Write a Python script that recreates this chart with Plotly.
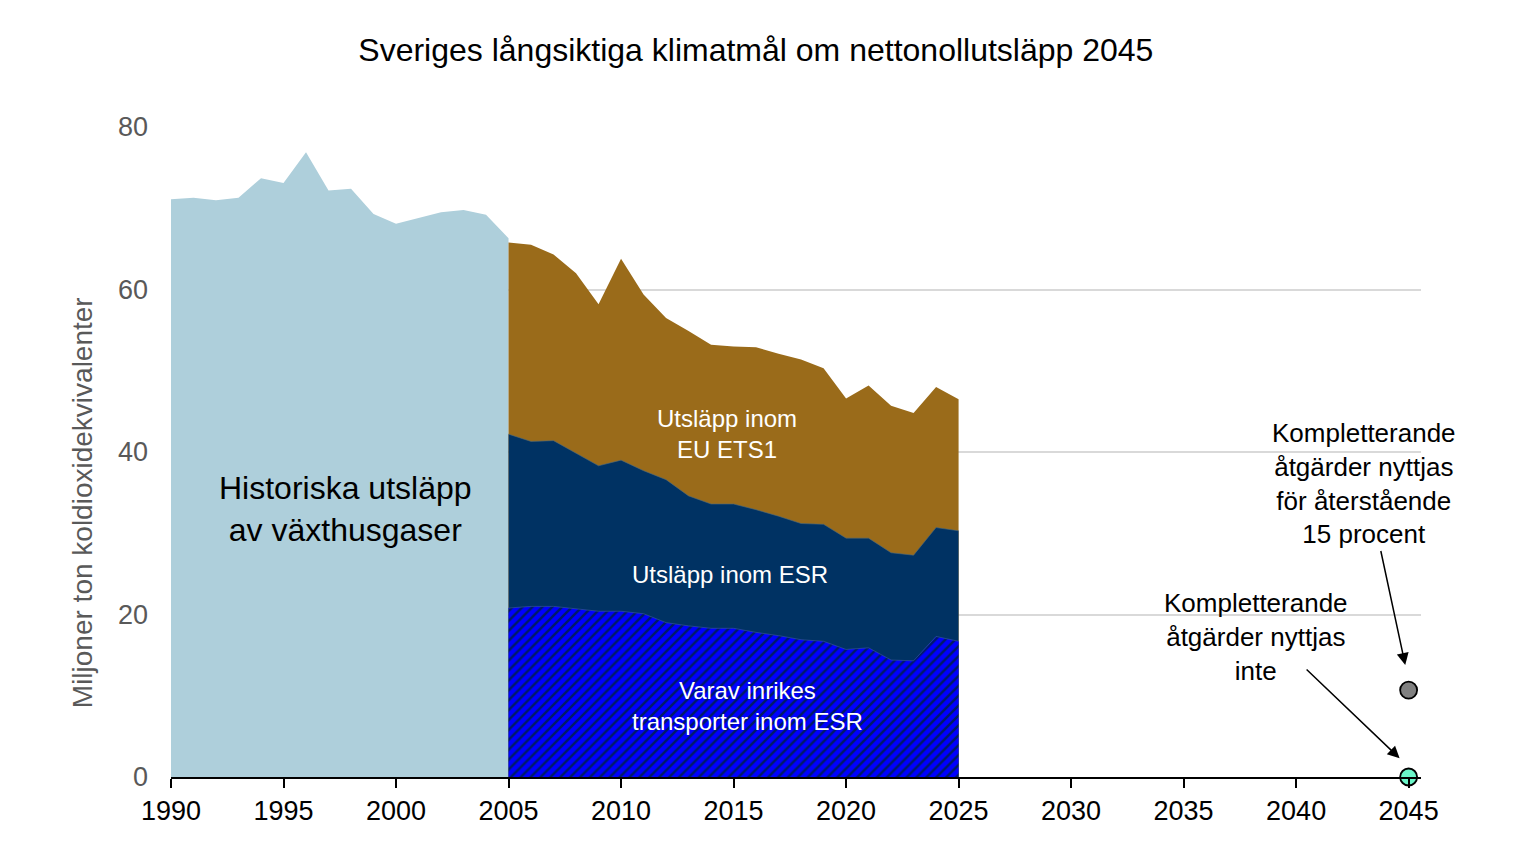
import plotly.graph_objects as go

# Data (million tonnes CO2e)
hist_years = list(range(1990, 2006))
hist_vals = [71.1, 71.3, 71.0, 71.3, 73.7, 73.1, 76.9, 72.2, 72.4, 69.3, 68.1, 68.8, 69.5, 69.8, 69.2, 66.3]

years = list(range(2005, 2026))
total = [65.8, 65.5, 64.3, 62.0, 58.2, 63.8, 59.4, 56.5, 54.9, 53.2, 53.0, 52.9, 52.1, 51.4, 50.3, 46.6, 48.2, 45.7, 44.8, 48.0, 46.5]
esr = [42.2, 41.3, 41.4, 39.8, 38.3, 39.0, 37.7, 36.6, 34.6, 33.6, 33.6, 32.9, 32.1, 31.2, 31.1, 29.4, 29.4, 27.6, 27.3, 30.7, 30.3]
transport = [20.8, 21.0, 21.0, 20.7, 20.4, 20.4, 20.1, 19.0, 18.6, 18.3, 18.3, 17.8, 17.4, 16.9, 16.7, 15.7, 15.9, 14.4, 14.3, 17.3, 16.7]

target_year = [2045]
target_with = [10.7]
target_without = [0]

x_ticks = list(range(1990, 2050, 5))
y_ticks = [0, 20, 40, 60, 80]

FONT = "Liberation Sans, Arial, sans-serif"

fig = go.Figure()
fig.add_trace(go.Scatter(x=hist_years, y=hist_vals, fill="tozeroy", mode="lines",
                         line=dict(width=0, color="#AECFDB"), fillcolor="#AECFDB",
                         hoverinfo="skip", showlegend=False))
fig.add_trace(go.Scatter(x=years, y=total, fill="tozeroy", mode="lines",
                         line=dict(width=0, color="#9A6B1A"), fillcolor="#9A6B1A",
                         showlegend=False))
fig.add_trace(go.Scatter(x=years, y=esr, fill="tozeroy", mode="lines",
                         line=dict(width=0.6, color="#4A6A80"), fillcolor="#003263",
                         showlegend=False))
fig.add_trace(go.Scatter(x=years, y=transport, fill="tozeroy", mode="lines",
                         line=dict(width=0.6, color="#3A5A9A"),
                         fillpattern=dict(shape="/", bgcolor="#0000FF", fgcolor="#001A66",
                                          size=7, solidity=0.35, fillmode="replace"),
                         showlegend=False))
fig.add_trace(go.Scatter(x=target_year, y=target_with, mode="markers",
                         marker=dict(size=17, color="#808080", line=dict(color="black", width=1.8)),
                         cliponaxis=False, showlegend=False))
fig.add_trace(go.Scatter(x=target_year, y=target_without, mode="markers",
                         marker=dict(size=17, color="#6BF5C8", line=dict(color="black", width=1.8)),
                         cliponaxis=False, showlegend=False))

fig.update_layout(
    width=1527, height=858,
    margin=dict(l=171, r=106, t=127, b=81),
    paper_bgcolor="white", plot_bgcolor="white",
    font=dict(family=FONT, color="black"),
    title=dict(text="Sveriges långsiktiga klimatmål om nettonollutsläpp 2045",
               x=0.495, xanchor="center", y=0.942, yanchor="middle",
               font=dict(size=32, color="black", family=FONT)),
    xaxis=dict(range=[1990, 2045.55], tickvals=x_ticks, ticktext=[str(v) for v in x_ticks],
               showgrid=False, zeroline=False, showline=True, linecolor="black", linewidth=2,
               ticks="outside", ticklen=9, tickwidth=2, tickcolor="black",
               tickfont=dict(size=27, color="black", family=FONT)),
    yaxis=dict(range=[0, 80], tickvals=y_ticks, showgrid=True, gridcolor="#D9D9D9", gridwidth=1.5,
               zeroline=False, showline=False, ticks="", ticklabelstandoff=22,
               tickfont=dict(size=27, color="#595959", family=FONT)),
)

# y-axis title (placed as in the reference, below the plot-area centre)
fig.add_annotation(x=-0.0712, xref="paper", y=33.7, yref="y",
                   text="Miljoner ton koldioxidekvivalenter", textangle=-90, showarrow=False,
                   font=dict(family=FONT, size=28, color="#595959"),
                   xanchor="center", yanchor="middle")

ann = [
    dict(x=1997.75, y=33.0, text="Historiska utsläpp<br>av växthusgaser", font=dict(size=32, color="black")),
    dict(x=2014.7, y=42.2, text="Utsläpp inom<br>EU ETS1", font=dict(size=24, color="white")),
    dict(x=2014.85, y=24.9, text="Utsläpp inom ESR", font=dict(size=24, color="white")),
    dict(x=2015.6, y=8.8, text="Varav inrikes<br>transporter inom ESR", font=dict(size=24, color="white")),
    dict(x=2043.0, y=36.1, text="Kompletterande<br>åtgärder nyttjas<br>för återstående<br>15 procent", font=dict(size=26, color="black")),
    dict(x=2038.2, y=17.2, text="Kompletterande<br>åtgärder nyttjas<br>inte", font=dict(size=26, color="black")),
]
for a in ann:
    fig.add_annotation(x=a["x"], y=a["y"], text=a["text"], showarrow=False,
                       font=dict(family=FONT, **a["font"]), align="center",
                       xanchor="center", yanchor="middle")

# arrows
fig.add_annotation(x=2044.85, y=13.8, ax=2043.75, ay=28.0, xref="x", yref="y", axref="x", ayref="y",
                   showarrow=True, arrowhead=2, arrowsize=1.6, arrowwidth=1.5, arrowcolor="black", text="")
fig.add_annotation(x=2044.6, y=2.3, ax=2040.4, ay=13.4, xref="x", yref="y", axref="x", ayref="y",
                   showarrow=True, arrowhead=2, arrowsize=1.6, arrowwidth=1.5, arrowcolor="black", text="")

fig.write_html("out.html")
